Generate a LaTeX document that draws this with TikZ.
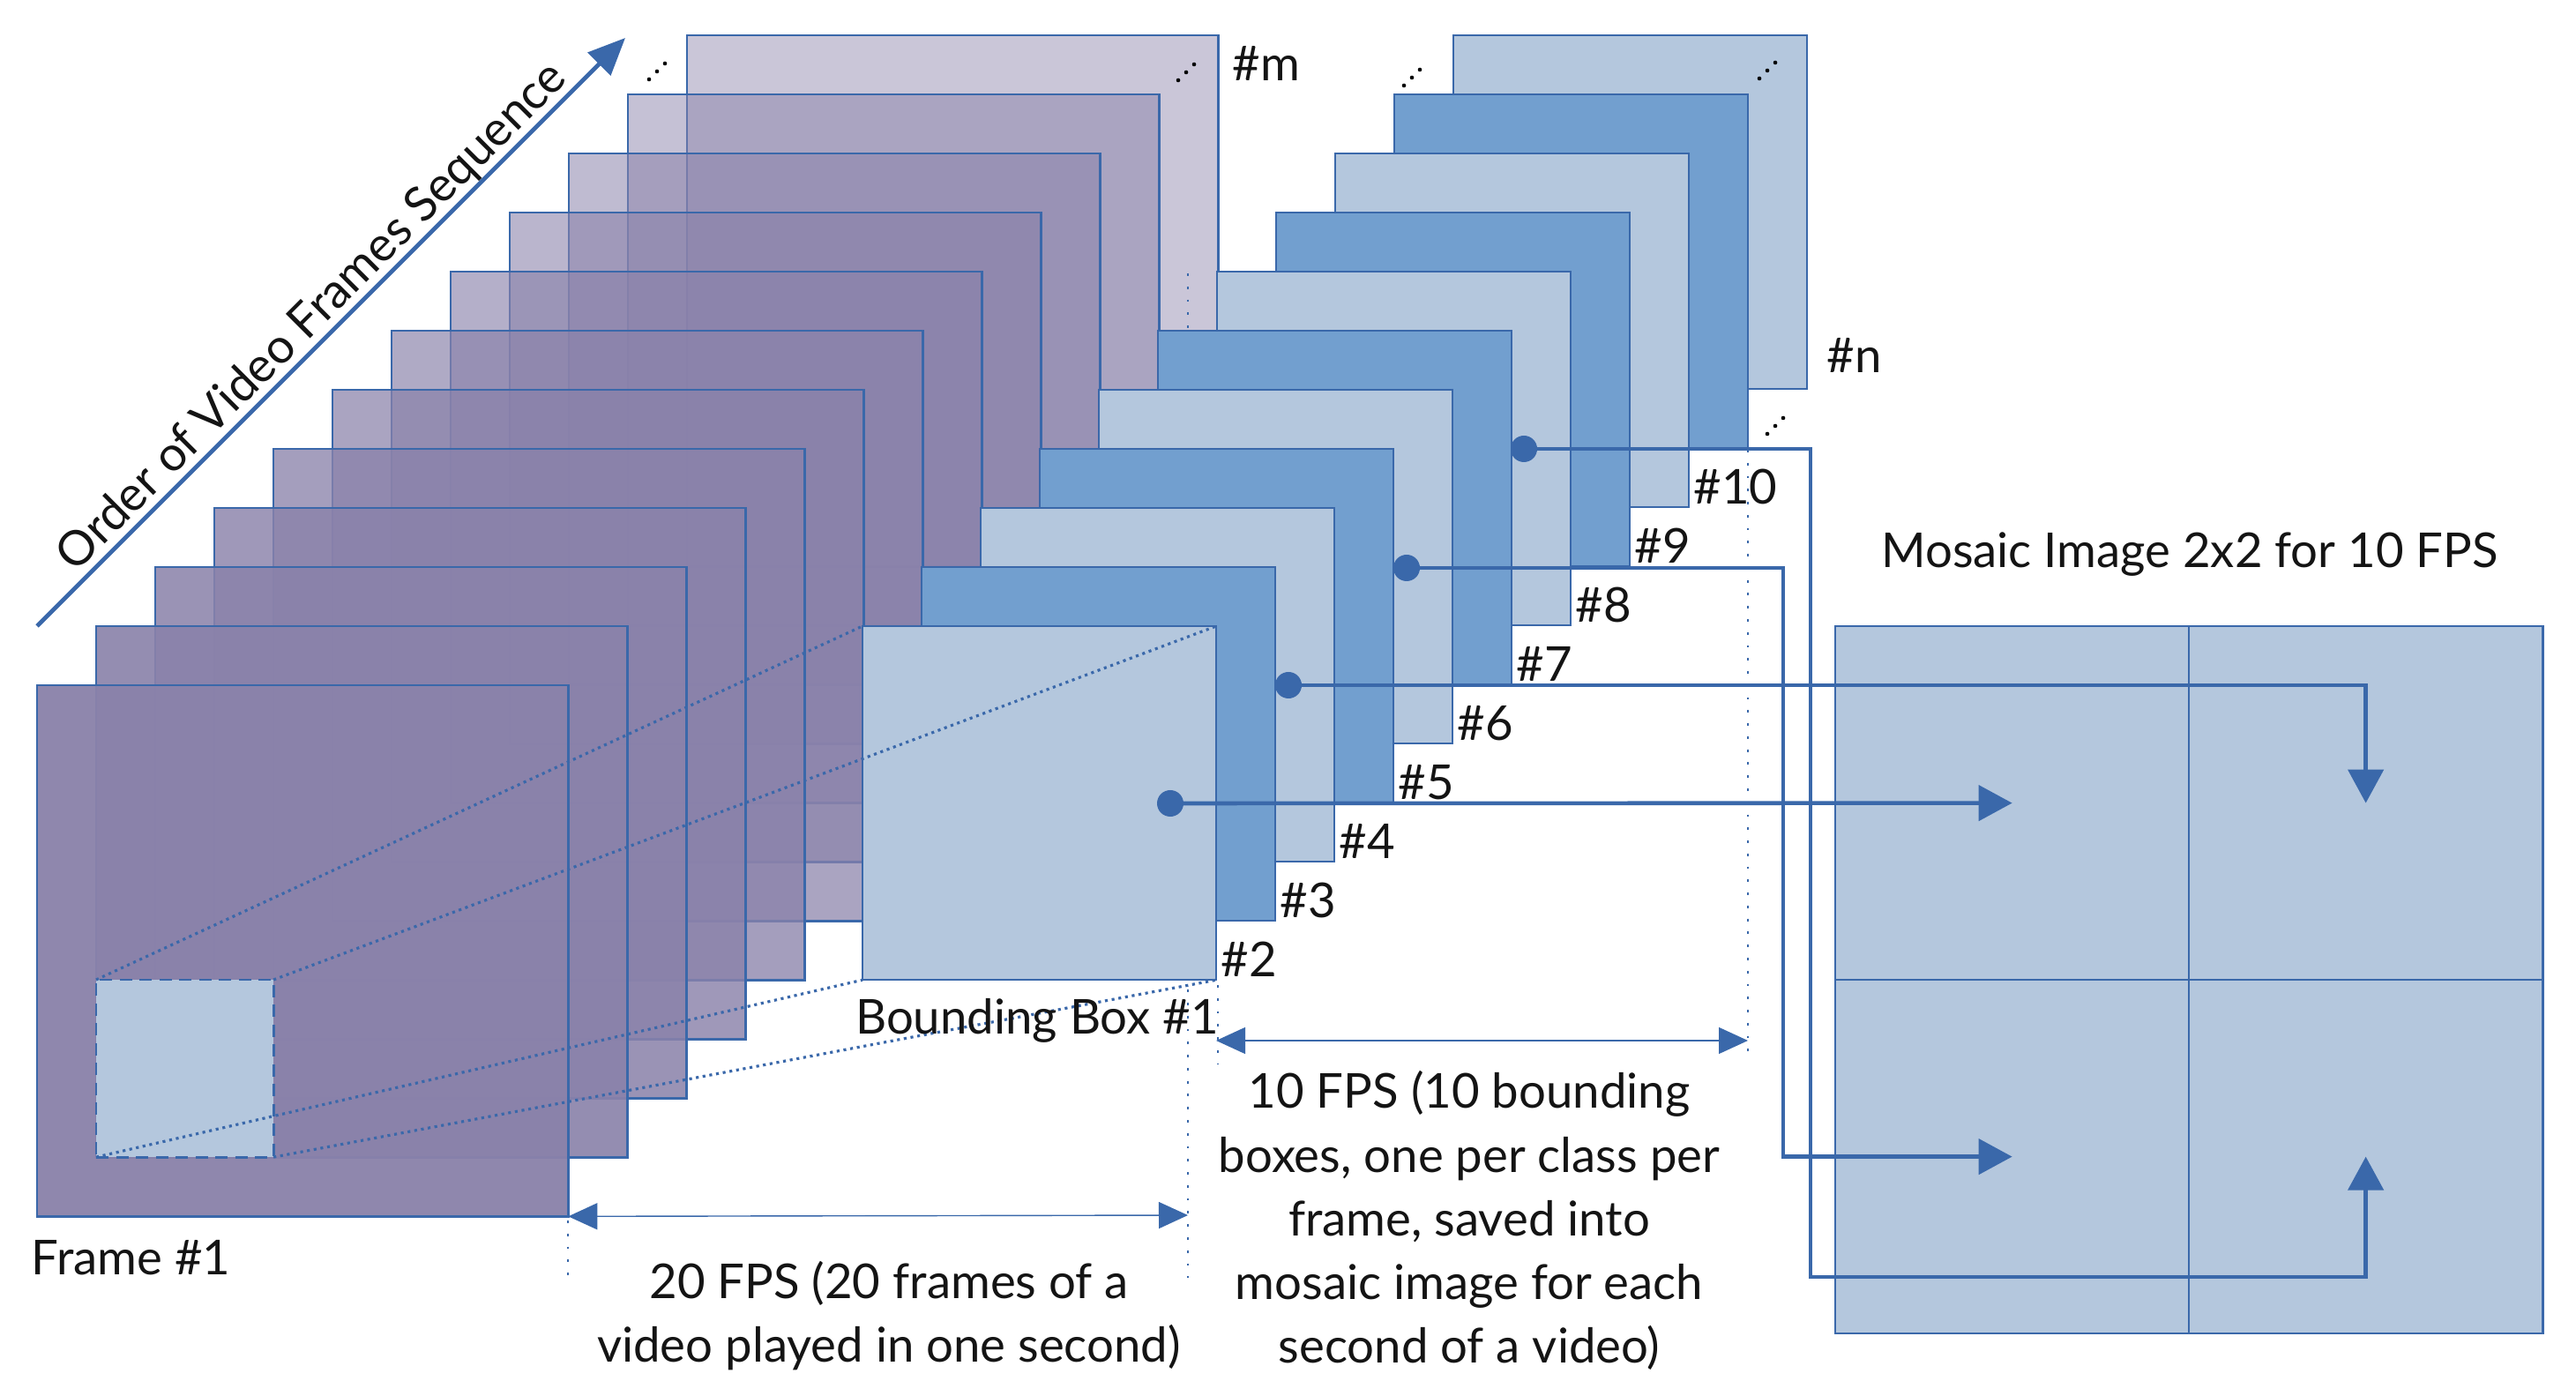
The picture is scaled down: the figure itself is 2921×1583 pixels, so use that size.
\documentclass[tikz,border=0pt]{standalone}
\usepackage{fontspec}
\setmainfont{Lato}
\usetikzlibrary{arrows.meta,calc}
\definecolor{edge}{RGB}{58,104,170}
\definecolor{pbase}{RGB}{138,130,170}
\definecolor{lblue}{RGB}{180,199,221}
\definecolor{mblue}{RGB}{114,159,207}
\definecolor{txt}{RGB}{20,20,20}
\begin{document}
\begin{tikzpicture}[x=0.01cm,y=-0.01cm,
  font=\fontsize{15.5}{20.5}\selectfont,
  pframe/.style={draw=edge, line width=0.7pt, fill=pbase, minimum width=6.02cm, minimum height=6.02cm, anchor=north west, inner sep=0pt, outer sep=0pt},
  bframe/.style={draw=edge, line width=0.7pt, minimum width=4.01cm, minimum height=4.01cm, anchor=north west, inner sep=0pt, outer sep=0pt},
  cell/.style={draw=edge, line width=0.7pt, fill=lblue, minimum width=4.01cm, minimum height=4.01cm, anchor=north west, inner sep=0pt, outer sep=0pt},
  lab/.style={anchor=base west, inner sep=0pt, text=txt},
  ctext/.style={align=center, inner sep=0pt, text=txt},
  conn/.style={draw=edge, line width=1.3pt, -{Triangle[length=0.38cm,width=0.40cm]}},
  guide/.style={draw=edge, line width=0.8pt, dash pattern=on 0.8pt off 3.4pt},
  proj/.style={draw=edge, line width=0.9pt, dash pattern=on 0.9pt off 1.3pt},
  span/.style={draw=edge, line width=0.4pt, {Triangle[length=0.33cm,width=0.30cm]}-{Triangle[length=0.33cm,width=0.30cm]}}
]
\useasboundingbox (0,0) rectangle (2921,1583);

% order arrow
\coordinate (oa) at (42,710);
\coordinate (ob) at (709,43);
\draw[edge, line width=1.4pt, -{Triangle[length=0.42cm,width=0.36cm]}] (oa) -- (ob);
\node[rotate=45, anchor=base west, inner sep=0pt, text=txt] (otext) at (85,651) {Order of Video Frames Sequence};

% purple frames (back to front)
\foreach \k in {11,10,...,0} {
  \pgfmathsetmacro{\op}{0.96-0.046*\k}
  \node[pframe, fill opacity=\op] (f\k) at (42+67*\k, 777-67*\k) {};
}

\draw[guide] (1347,310) -- (1347,1449);

% blue frames (back to front)
\foreach \j in {10,9,...,0} {
  \pgfmathtruncatemacro{\parity}{mod(\j,2)}
  \ifnum\parity=0 \def\bc{lblue}\else\def\bc{mblue}\fi
  \node[bframe, fill=\bc] (b\j) at (978+67*\j, 710-67*\j) {};
}

% region of interest in frame 1
\node[draw=edge, line width=0.8pt, dash pattern=on 4pt off 2.4pt, fill=lblue, minimum width=2.01cm, minimum height=2.01cm, anchor=north west, inner sep=0pt, outer sep=0pt] (roi) at (109,1111) {};
\draw[proj] (roi.north west) -- (b0.north west);
\draw[proj] (roi.north east) -- (b0.north east);
\draw[proj] (roi.south west) -- (b0.south west);
\draw[proj] (roi.south east) -- (b0.south east);

% mosaic
\node[cell] (c11) at (2081,710) {};
\node[cell] (c12) at (2482,710) {};
\node[cell] (c21) at (2081,1111) {};
\node[cell] (c22) at (2482,1111) {};
\node[anchor=base, inner sep=0pt, text=txt] (mt) at (2483,644) {Mosaic Image 2x2 for 10 FPS};

% labels
\node[lab] (lm) at (1397,92) {\#m};
\node[lab] (ln) at (2071,423) {\#n};
\foreach \j [evaluate=\j as \n using int(\j+1)] in {1,...,9} {
  \node[lab] (l\n) at (1384+67*\j-67, 1108-67*\j+67) {\#\n};
}
\node[lab] (lf1) at (35,1445) {Frame \#1};
\node[anchor=base, inner sep=0pt, text=txt] (lbb) at (1176,1173) {Bounding Box \#1};

% guides and spans
\draw[guide] (644,1384) -- (644,1449);
\draw[guide] (1381,1117) -- (1381,1207);
\draw[guide] (1982,510) -- (1982,1195);
\coordinate (s20b) at (1347,1378);
\coordinate (s10a) at (1379,1180);
\coordinate (s10b) at (1982,1180);
\draw[span] (f0.south east) -- (s20b);
\draw[span] (s10a) -- (s10b);
\node[ctext] (t20) at (1008,1492) {20 FPS (20 frames of a\\video played in one second)};
\node[ctext] (t10) at (1666,1384) {10 FPS (10 bounding\\boxes, one per class per\\frame, saved into\\mosaic image for each\\second of a video)};

% connectors
\coordinate (d1) at (1327,911);
\coordinate (d2) at (1461,777);
\coordinate (d3) at (1595,644);
\coordinate (d4) at (1728,509);
\coordinate (k3) at (2022,644);
\coordinate (k4a) at (2053,509);
\coordinate (k4b) at (2053,1448);
\draw[conn] (d1) -- (c11.center);
\draw[conn] (d2) -| (c12.center);
\draw[conn] (d3) -- (k3) |- (c21.center);
\draw[conn] (d4) -- (k4a) -- (k4b) -| (c22.center);
\foreach \d in {d1,d2,d3,d4} \fill[edge] (\d) circle (0.15cm);

% ellipses
\foreach \x/\y in {736/90, 1336/91, 1592/97, 1995/89, 2004/492} {
  \foreach \t in {0,1,2} \fill[black] (\x+9*\t, \y-9*\t) circle (0.023cm);
}
\end{tikzpicture}
\end{document}
